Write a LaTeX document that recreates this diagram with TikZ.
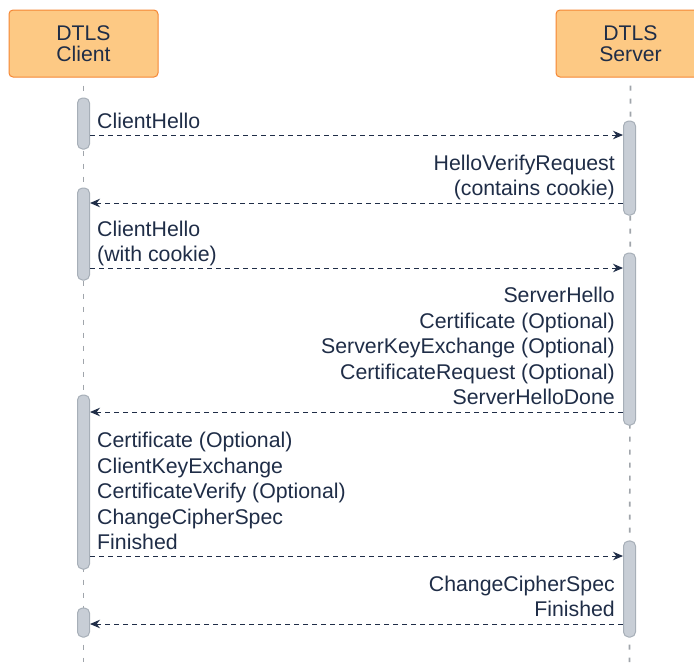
\documentclass[tikz,border=0pt]{standalone}
\usepackage{fontspec}
\setmainfont{Liberation Sans}
\usepackage{xcolor}
\usetikzlibrary{arrows.meta}
\definecolor{ink}{HTML}{1F2D47}
\definecolor{hdrfill}{HTML}{FDC984}
\definecolor{hdrline}{HTML}{F58634}
\definecolor{barfill}{HTML}{C8CED6}
\definecolor{barline}{HTML}{A7AFB8}
\definecolor{lifegray}{HTML}{A0A5AB}

\begin{document}
\begin{tikzpicture}[x=1pt,y=-1pt,
  hdr/.style={draw=hdrline,fill=hdrfill,line width=1pt,rounded corners=4pt,
    minimum width=149pt,minimum height=67pt,align=center,text=ink,
    font=\fontsize{21.2}{21}\selectfont},
  actbar/.style={draw=barline,fill=barfill,line width=1pt,rounded corners=5pt,
    minimum width=12pt,inner sep=0pt},
  life/.style={lifegray,line width=1.6pt,dash pattern=on 5pt off 8pt},
  msg/.style={ink,line width=1pt,dash pattern=on 5pt off 4pt,
    -{Stealth[length=10pt,width=8.5pt]}},
  lbl/.style={text=ink,inner sep=0pt,text depth=0pt,
    font=\fontsize{21.3}{25.5}\selectfont},
  lbll/.style={lbl,anchor=south west,align=left},
  lblr/.style={lbl,anchor=south east,align=right}]
  \useasboundingbox (0,0) rectangle (694,662);

  % the two parties and their lifelines
  \node[hdr] (cli) at (83.5,43.5) {DTLS\\Client};
  \node[hdr] (srv) at (630.5,43.5) {DTLS\\Server};
  \coordinate (cliEnd) at (83.5,662);
  \coordinate (srvEnd) at (629.5,662);
  \draw[life] ([yshift=-8pt]cli.south) -- (cliEnd);
  \draw[life] ([yshift=-8pt]srv.south) -- (srvEnd);

  % activation bars, client side
  \node[actbar,minimum height=51pt] (c1) at (83.5,123.5) {};
  \node[actbar,minimum height=92pt] (c2) at (83.5,234) {};
  \node[actbar,minimum height=174pt] (c3) at (83.5,482) {};
  \node[actbar,minimum height=29pt] (c4) at (83.5,622.5) {};
  % activation bars, server side
  \node[actbar,minimum height=94pt] (s1) at (629.5,168) {};
  \node[actbar,minimum height=172pt] (s2) at (629.5,339) {};
  \node[actbar,minimum height=96pt] (s3) at (629.5,589) {};

  % heights of the messages
  \coordinate (m1) at (0,135);
  \coordinate (m2) at (0,203);
  \coordinate (m3) at (0,268);
  \coordinate (m4) at (0,412);
  \coordinate (m5) at (0,556);
  \coordinate (m6) at (0,624);

  % handshake messages
  \draw[msg] (c1.east |- m1) -- (s1.west |- m1);
  \node[lbll] (t1) at ([shift={(7pt,6pt)}]c1.east |- m1) {ClientHello};

  \draw[msg] (s1.west |- m2) -- (c2.east |- m2);
  \node[lblr] (t2) at ([shift={(-8pt,7pt)}]s1.west |- m2)
    {HelloVerifyRequest\\(contains cookie)};

  \draw[msg] (c2.east |- m3) -- (s2.west |- m3);
  \node[lbll] (t3) at ([shift={(7pt,6pt)}]c2.east |- m3)
    {ClientHello\\(with cookie)};

  \draw[msg] (s2.west |- m4) -- (c3.east |- m4);
  \node[lblr] (t4) at ([shift={(-8pt,7pt)}]s2.west |- m4)
    {ServerHello\\Certificate (Optional)\\ServerKeyExchange (Optional)\\
     CertificateRequest (Optional)\\ServerHelloDone};

  \draw[msg] (c3.east |- m5) -- (s3.west |- m5);
  \node[lbll] (t5) at ([shift={(7pt,6pt)}]c3.east |- m5)
    {Certificate (Optional)\\ClientKeyExchange\\CertificateVerify (Optional)\\
     ChangeCipherSpec\\Finished};

  \draw[msg] (s3.west |- m6) -- (c4.east |- m6);
  \node[lblr] (t6) at ([shift={(-8pt,7pt)}]s3.west |- m6)
    {ChangeCipherSpec\\Finished};
\end{tikzpicture}
\end{document}
